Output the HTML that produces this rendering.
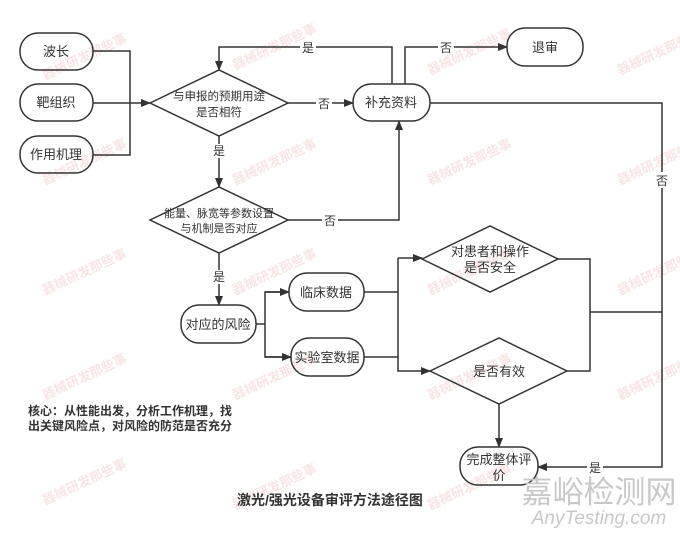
<!DOCTYPE html>
<html><head><meta charset="utf-8"><style>
html,body{margin:0;padding:0;background:#fff;}
svg{display:block;}
text{font-family:"Liberation Sans","Noto Sans CJK SC",sans-serif;fill:#333;}
</style></head><body>
<svg width="680" height="534" viewBox="0 0 680 534" xmlns="http://www.w3.org/2000/svg">
<defs>
<marker id="a" markerWidth="10" markerHeight="8" refX="9" refY="4" orient="auto" markerUnits="userSpaceOnUse">
<path d="M0,0 L10,4 L0,8 z" fill="#333"/></marker>
</defs>
<g font-size="13" opacity="0.22" font-weight="bold">
<text x="45" y="80" transform="rotate(-25 45 80)" style="fill:#e08a8a">器械研发那些事</text>
<text x="235" y="70" transform="rotate(-25 235 70)" style="fill:#e08a8a">器械研发那些事</text>
<text x="430" y="75" transform="rotate(-25 430 75)" style="fill:#e08a8a">器械研发那些事</text>
<text x="620" y="75" transform="rotate(-25 620 75)" style="fill:#e08a8a">器械研发那些事</text>
<text x="45" y="185" transform="rotate(-25 45 185)" style="fill:#e08a8a">器械研发那些事</text>
<text x="235" y="185" transform="rotate(-25 235 185)" style="fill:#e08a8a">器械研发那些事</text>
<text x="430" y="185" transform="rotate(-25 430 185)" style="fill:#e08a8a">器械研发那些事</text>
<text x="620" y="185" transform="rotate(-25 620 185)" style="fill:#e08a8a">器械研发那些事</text>
<text x="45" y="295" transform="rotate(-25 45 295)" style="fill:#e08a8a">器械研发那些事</text>
<text x="235" y="295" transform="rotate(-25 235 295)" style="fill:#e08a8a">器械研发那些事</text>
<text x="430" y="295" transform="rotate(-25 430 295)" style="fill:#e08a8a">器械研发那些事</text>
<text x="620" y="295" transform="rotate(-25 620 295)" style="fill:#e08a8a">器械研发那些事</text>
<text x="45" y="400" transform="rotate(-25 45 400)" style="fill:#e08a8a">器械研发那些事</text>
<text x="235" y="400" transform="rotate(-25 235 400)" style="fill:#e08a8a">器械研发那些事</text>
<text x="430" y="400" transform="rotate(-25 430 400)" style="fill:#e08a8a">器械研发那些事</text>
<text x="620" y="400" transform="rotate(-25 620 400)" style="fill:#e08a8a">器械研发那些事</text>
<text x="45" y="505" transform="rotate(-25 45 505)" style="fill:#e08a8a">器械研发那些事</text>
<text x="235" y="510" transform="rotate(-25 235 510)" style="fill:#e08a8a">器械研发那些事</text>
<text x="430" y="510" transform="rotate(-25 430 510)" style="fill:#e08a8a">器械研发那些事</text>
</g>
<g fill="none" stroke="#333" stroke-width="1.5">
<rect x="20" y="33" width="73" height="37" rx="18"/>
<rect x="20" y="84" width="73" height="37" rx="18"/>
<rect x="20" y="136" width="73" height="37" rx="18"/>
<polyline points="93,51 130,51 130,155 93,155"/>
<line x1="93" y1="103" x2="150" y2="103" marker-end="url(#a)"/>
<polygon points="150,103 219,70 288,103 219,136"/>
<polygon points="150,220 219,187 288,220 219,253"/>
<rect x="353" y="84" width="77" height="37" rx="18"/>
<rect x="507" y="28" width="76" height="38" rx="18"/>
<polyline points="392,84 392,47 219,47 219,70" marker-end="url(#a)"/>
<polyline points="405,84 405,47 507,47" marker-end="url(#a)"/>
<line x1="288" y1="103" x2="353" y2="103" marker-end="url(#a)"/>
<line x1="219" y1="136" x2="219" y2="187" marker-end="url(#a)"/>
<polyline points="288,220 399,220 399,121" marker-end="url(#a)"/>
<line x1="219" y1="253" x2="219" y2="305" marker-end="url(#a)"/>
<rect x="181" y="305" width="75" height="38" rx="18"/>
<rect x="289" y="273" width="75" height="38" rx="18"/>
<rect x="291" y="338" width="73" height="38" rx="18"/>
<polyline points="256,324 265,324"/>
<polyline points="289,292 265,292 265,357 291,357"/>
<line x1="265" y1="292" x2="289" y2="292" marker-end="url(#a)"/>
<line x1="265" y1="357" x2="291" y2="357" marker-end="url(#a)"/>
<polyline points="364,292 398,292"/>
<polyline points="364,357 398,357"/>
<polyline points="398,258 398,371 430,371" marker-end="url(#a)"/>
<line x1="398" y1="258" x2="422" y2="258" marker-end="url(#a)"/>
<polygon points="422,259 490,226 558,259 490,292"/>
<polygon points="430,371 499,338 567,371 499,404"/>
<polyline points="558,259 590,259 590,371 567,371"/>
<line x1="590" y1="312" x2="662" y2="312"/>
<polyline points="430,103 662,103 662,467 538,467" marker-end="url(#a)"/>
<line x1="499" y1="404" x2="499" y2="447" marker-end="url(#a)"/>
<rect x="460" y="447" width="78" height="38" rx="18"/>
</g>
<g font-size="13" text-anchor="middle">
<text x="56" y="56">波长</text>
<text x="56" y="107">靶组织</text>
<text x="56" y="159">作用机理</text>
<text x="219" y="100" font-size="11.5">与申报的预期用途</text>
<text x="219" y="116" font-size="11.5">是否相符</text>
<text x="219" y="217" font-size="11">能量、脉宽等参数设置</text>
<text x="219" y="232" font-size="11">与机制是否对应</text>
<text x="391" y="107">补充资料</text>
<text x="545" y="52">退审</text>
<text x="218" y="329">对应的风险</text>
<text x="326" y="297">临床数据</text>
<text x="327" y="362">实验室数据</text>
<text x="490" y="256">对患者和操作</text>
<text x="490" y="272">是否安全</text>
<text x="499" y="376">是否有效</text>
<text x="499" y="464">完成整体评</text>
<text x="499" y="480">价</text>
</g>
<g font-size="12" text-anchor="middle">
<rect x="300" y="40" width="16" height="14" fill="#fff"/><text x="308" y="52">是</text>
<rect x="316" y="96" width="16" height="14" fill="#fff"/><text x="324" y="108">否</text>
<rect x="438" y="40" width="16" height="14" fill="#fff"/><text x="446" y="52">否</text>
<rect x="211" y="144" width="16" height="14" fill="#fff"/><text x="219" y="155">是</text>
<rect x="322" y="213" width="16" height="14" fill="#fff"/><text x="330" y="225">否</text>
<rect x="211" y="270" width="16" height="14" fill="#fff"/><text x="219" y="281">是</text>
<rect x="655" y="172" width="14" height="16" fill="#fff"/><text x="662" y="185">否</text>
<rect x="587" y="460" width="16" height="14" fill="#fff"/><text x="595" y="472">是</text>
</g>
<text x="28" y="415" font-size="12" font-weight="bold">核心：从性能出发，分析工作机理，找</text>
<text x="28" y="430" font-size="12" font-weight="bold">出关键风险点，对风险的防范是否充分</text>
<text x="330" y="505" font-size="14" font-weight="bold" text-anchor="middle">激光/强光设备审评方法途径图</text>
<text x="599" y="503" font-size="31" text-anchor="middle" style="fill:#c8c8c8">嘉峪检测网</text>
<text x="599" y="524" font-size="19" font-style="italic" text-anchor="middle" style="fill:#c8c8c8">AnyTesting.com</text>
</svg>
</body></html>
